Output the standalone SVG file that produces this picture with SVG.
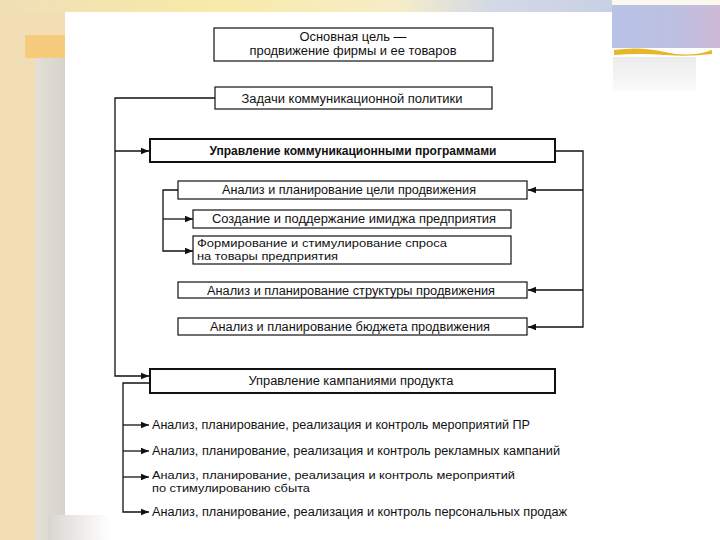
<svg xmlns="http://www.w3.org/2000/svg" width="720" height="540" viewBox="0 0 720 540">
<defs>
<style>
.box{fill:#fff;stroke:#111;stroke-width:1.2}
.bold{stroke-width:2}
.t{font-family:"Liberation Sans",Arial,sans-serif;font-size:12px;fill:#111}
.s{font-size:10.5px}
.c{text-anchor:middle}
.conn{fill:none;stroke:#111;stroke-width:1.3}
</style>
<marker id="ah" markerUnits="userSpaceOnUse" markerWidth="9" markerHeight="8" refX="8" refY="4" orient="auto">
<path d="M0,0.8 L8,4 L0,7.2 Z" fill="#111"/>
</marker>
<linearGradient id="gs" x1="0" y1="0" x2="1" y2="0">
<stop offset="0" stop-color="#e4dfd6"/>
<stop offset="1" stop-color="#d6d3ce"/>
</linearGradient>
<linearGradient id="gb" x1="0" y1="0" x2="1" y2="0">
<stop offset="0" stop-color="#d9d6d1"/>
<stop offset="1" stop-color="#ffffff"/>
</linearGradient>
<linearGradient id="gl" x1="0" y1="0" x2="1" y2="0">
<stop offset="0" stop-color="#b9c3e6"/>
<stop offset="0.55" stop-color="#bcc0e2"/>
<stop offset="1" stop-color="#cdb9d6"/>
</linearGradient>
<linearGradient id="gt" x1="0" y1="0" x2="1" y2="0">
<stop offset="0" stop-color="#f0dfb6"/>
<stop offset="0.35" stop-color="#f8eaa8"/>
<stop offset="0.65" stop-color="#f6edc8"/>
<stop offset="0.8" stop-color="#d3d9e6"/>
<stop offset="1" stop-color="#c9d0e4"/>
</linearGradient>
<linearGradient id="gg" x1="0" y1="0" x2="0" y2="1">
<stop offset="0" stop-color="#ececec"/>
<stop offset="1" stop-color="#fafafa"/>
</linearGradient>
</defs>

<!-- background -->
<rect x="0" y="0" width="720" height="540" fill="#f1deb4"/>
<rect x="0" y="0" width="612" height="12" fill="url(#gt)"/>
<rect x="612" y="0" width="108" height="5" fill="#fbf8f0"/>
<rect x="35" y="58" width="30" height="482" fill="url(#gs)"/>
<rect x="25" y="35" width="40" height="23" fill="#f6cb7c"/>
<rect x="65" y="12" width="655" height="528" fill="#fff"/>
<rect x="48" y="515" width="62" height="25" fill="url(#gb)"/>
<rect x="612" y="5" width="108" height="43" fill="url(#gl)"/>
<path d="M614,50 Q640,46 665,52 T712,50 L712,54 Q690,57 665,55 T614,55 Z" fill="#e6b828"/>
<rect x="613" y="57" width="83" height="34" fill="url(#gg)"/>

<!-- connectors -->
<g id="connectors" class="conn">
<path d="M215,98 H115 V376 H149" marker-end="url(#ah)"/>
<path d="M115,151 H149" marker-end="url(#ah)"/>
<path d="M555,151 H583 V327 H528" marker-end="url(#ah)"/>
<path d="M583,190 H528" marker-end="url(#ah)"/>
<path d="M583,290 H528" marker-end="url(#ah)"/>
<path d="M178,190 H163 V251 H193" marker-end="url(#ah)"/>
<path d="M163,219 H193" marker-end="url(#ah)"/>
<path d="M150,383 H123 V512 H149" marker-end="url(#ah)"/>
<path d="M123,425 H149" marker-end="url(#ah)"/>
<path d="M123,451 H149" marker-end="url(#ah)"/>
<path d="M123,477 H149" marker-end="url(#ah)"/>
</g>

<g id="n1"><rect class="box" x="214" y="28" width="279" height="33"/>
<text class="t c" x="353" y="41" textLength="107" lengthAdjust="spacingAndGlyphs">Основная цель —</text>
<text class="t c" x="353" y="55" textLength="207" lengthAdjust="spacingAndGlyphs">продвижение фирмы и ее товаров</text></g>

<g id="n2"><rect class="box" x="215" y="87" width="277" height="22"/>
<text class="t c" x="352" y="102.5" textLength="221" lengthAdjust="spacingAndGlyphs">Задачи коммуникационной политики</text></g>

<g id="n3"><rect class="box bold" x="150" y="139" width="405" height="23"/>
<text class="t c" x="353" y="155" textLength="287" lengthAdjust="spacingAndGlyphs" font-weight="bold">Управление коммуникационными программами</text></g>

<g id="n4"><rect class="box" x="178" y="181" width="349" height="18"/>
<text class="t c" x="349" y="194" textLength="254" lengthAdjust="spacingAndGlyphs">Анализ и планирование цели продвижения</text></g>

<g id="n5"><rect class="box" x="193" y="210" width="318" height="18"/>
<text class="t c" x="354" y="223" textLength="284" lengthAdjust="spacingAndGlyphs">Создание и поддержание имиджа предприятия</text></g>

<g id="n6"><rect class="box" x="193" y="236" width="318" height="28"/>
<text class="t s" x="197" y="247" textLength="250" lengthAdjust="spacingAndGlyphs">Формирование и стимулирование спроса</text>
<text class="t s" x="197" y="259.5" textLength="141" lengthAdjust="spacingAndGlyphs">на товары предприятия</text></g>

<g id="n7"><rect class="box" x="178" y="282" width="349" height="16"/>
<text class="t c" x="351" y="294.5" textLength="288" lengthAdjust="spacingAndGlyphs">Анализ и планирование структуры продвижения</text></g>

<g id="n8"><rect class="box" x="178" y="318" width="349" height="17"/>
<text class="t c" x="350" y="330.5" textLength="280" lengthAdjust="spacingAndGlyphs">Анализ и планирование бюджета продвижения</text></g>

<g id="n9"><rect class="box bold" x="150" y="369" width="405" height="24"/>
<text class="t c" x="351" y="385" textLength="205" lengthAdjust="spacingAndGlyphs">Управление кампаниями продукта</text></g>

<g id="n10"><text class="t" x="152" y="429" textLength="378" lengthAdjust="spacingAndGlyphs">Анализ, планирование, реализация и контроль мероприятий ПР</text></g>
<g id="n11"><text class="t" x="152" y="455" textLength="408" lengthAdjust="spacingAndGlyphs">Анализ, планирование, реализация и контроль рекламных кампаний</text></g>
<g id="n12"><text class="t s" x="152" y="478.5" textLength="363" lengthAdjust="spacingAndGlyphs">Анализ, планирование, реализация и контроль мероприятий</text>
<text class="t s" x="152" y="491.5" textLength="158" lengthAdjust="spacingAndGlyphs">по стимулированию сбыта</text></g>
<g id="n13"><text class="t" x="152" y="516" textLength="415" lengthAdjust="spacingAndGlyphs">Анализ, планирование, реализация и контроль персональных продаж</text></g>
</svg>
